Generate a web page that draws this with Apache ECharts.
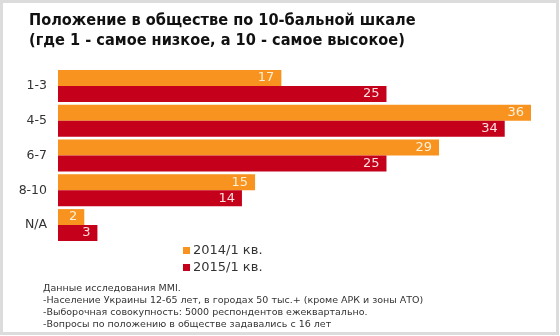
<!DOCTYPE html>
<html><head><meta charset="utf-8">
<script src="https://cdn.jsdelivr.net/npm/echarts@6/dist/echarts.min.js"></script>
<style>html,body{margin:0;padding:0;background:#fff}#c{width:560px;height:336px}</style>
</head><body><div id="c"></div>
<script>
const categories = ['1-3', '4-5', '6-7', '8-10', 'N/A'];
const seriesNames = ['2014/1 кв.', '2015/1 кв.'];
const values2014 = [17, 36, 29, 15, 2];
const values2015 = [25, 34, 25, 14, 3];
const titleText = 'Положение в обществе по 10-бальной шкале\n(где 1 - самое низкое, а 10 - самое высокое)';
const footnoteLines = [
  'Данные исследования MMI.',
  '-Население Украины 12-65 лет, в городах 50 тыс.+ (кроме АРК и зоны АТО)',
  '-Выборочная совокупность: 5000 респондентов ежеквартально.',
  '-Вопросы по положению в обществе задавались с 16 лет'
];

const chart = echarts.init(document.getElementById('c'));
const labelCfg = (color) => ({
  show: true, position: 'insideRight', distance: 7,
  color: color, fontFamily: 'DejaVu Sans', fontSize: 13
});
chart.setOption({
  animation: false,
  backgroundColor: '#fff',
  graphic: [
    { type: 'rect', silent: true, shape: { x: 1.5, y: 1.5, width: 556, height: 332 },
      style: { fill: 'none', stroke: '#dcdcdc', lineWidth: 3 } },
    { type: 'text', left: 43, top: 282,
      style: { text: footnoteLines.join('\n'), fill: '#333', fontFamily: 'DejaVu Sans',
               fontSize: 9.5, lineHeight: 12.2 } }
  ],
  title: {
    text: titleText, left: 24, top: 6,
    textStyle: { fontFamily: '"DejaVu Sans Condensed", "Liberation Sans"', fontWeight: 'bold', fontSize: 16.2,
                 color: '#111', lineHeight: 20 }
  },
  legend: {
    orient: 'vertical', left: 178, top: 239, itemWidth: 7, itemHeight: 7, itemGap: 4,
    icon: 'rect',
    textStyle: { fontFamily: 'DejaVu Sans', fontSize: 13, color: '#333', padding: [0, 0, 0, -2] },
    data: seriesNames
  },
  grid: { left: 58, right: 29, top: 68.5, bottom: 93.5, containLabel: false },
  xAxis: { type: 'value', min: 0, max: 36, show: false },
  yAxis: {
    type: 'category', data: categories, inverse: true,
    axisLine: { show: false }, axisTick: { show: false },
    axisLabel: { fontFamily: 'DejaVu Sans', fontSize: 12.5, color: '#333', margin: 11 }
  },
  series: [
    { name: seriesNames[0], type: 'bar', data: values2014, barGap: '0%', barCategoryGap: '8%',
      itemStyle: { color: '#F7931E' }, label: labelCfg('#fdf0d8') },
    { name: seriesNames[1], type: 'bar', data: values2015,
      itemStyle: { color: '#C4001A' }, label: labelCfg('#fbe0e0') }
  ]
});
</script></body></html>
